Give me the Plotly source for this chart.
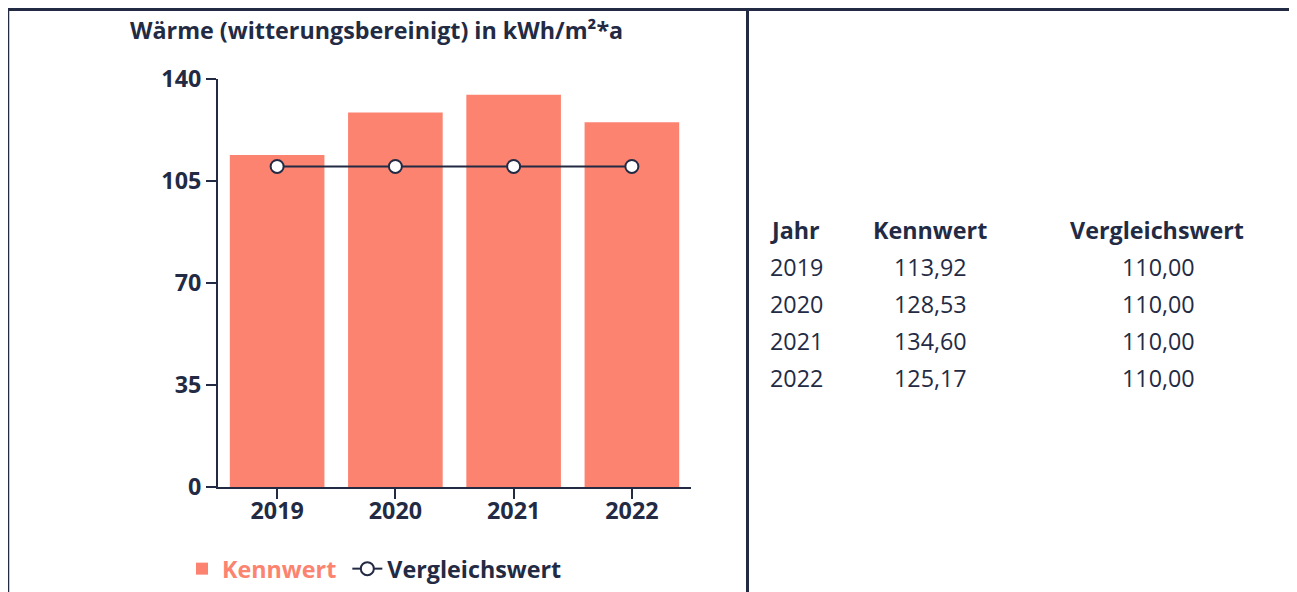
import plotly.graph_objects as go

# the page body adds 8px around the figure, so work in screen pixels and shift
OFF = 8
W, H = 1297 - OFF, 592 - OFF

years = ["2019", "2020", "2021", "2022"]
kennwert = [113.92, 128.53, 134.60, 125.17]
vergleichswert = [110.00, 110.00, 110.00, 110.00]
y_ticks = [0, 35, 70, 105, 140]

title_text = "Wärme (witterungsbereinigt) in kWh/m²*a"
table_header = ["Jahr", "Kennwert", "Vergleichswert"]

NAVY = "#232B44"
SALMON = "#FC8370"
FONT = "Open Sans"
FS = 23.3


def px_x(x):
    return (x - OFF) / W


def px_y(y):
    return 1 - (y - OFF) / H


def fmt(v):
    return f"{v:.2f}".replace(".", ",")


fig = go.Figure()

fig.add_trace(go.Bar(
    x=years, y=kennwert, name=f"<span style='color:{SALMON}'>Kennwert</span>\u00a0",
    marker=dict(color=SALMON, line=dict(width=0)),
))
fig.add_trace(go.Scatter(
    x=years, y=vergleichswert, name="Vergleichswert", mode="lines+markers",
    line=dict(color=NAVY, width=2),
    marker=dict(size=13, color="white", line=dict(color=NAVY, width=2)),
))

fig.update_layout(
    width=W, height=H,
    margin=dict(l=0, r=0, t=0, b=0, autoexpand=False),
    paper_bgcolor="white", plot_bgcolor="white",
    font=dict(family=FONT, color=NAVY, size=FS),
    bargap=0.2,
    showlegend=True,
    legend=dict(
        orientation="h", x=px_x(182), y=px_y(569), xanchor="left", yanchor="middle",
        font=dict(size=FS, weight="bold", color=NAVY), bgcolor="rgba(0,0,0,0)",
    ),
    xaxis=dict(
        domain=[px_x(218), px_x(691)], anchor="y", automargin=False,
        showline=True, linecolor=NAVY, linewidth=2,
        ticks="outside", ticklen=10, tickwidth=2, tickcolor=NAVY,
        tickfont=dict(size=FS, weight="bold", color=NAVY),
        ticklabelstandoff=-8,
        showgrid=False, zeroline=False,
    ),
    yaxis=dict(
        domain=[px_y(487), px_y(79)], anchor="x", automargin=False,
        range=[0, 140], tickvals=y_ticks,
        showline=True, linecolor=NAVY, linewidth=2,
        ticks="outside", ticklen=10, tickwidth=2, tickcolor=NAVY,
        tickfont=dict(size=FS, weight="bold", color=NAVY),
        showgrid=False, zeroline=False,
    ),
)

# title
fig.add_annotation(
    text=title_text, x=px_x(376), y=px_y(30), xref="paper", yref="paper",
    showarrow=False, xanchor="center", yanchor="middle",
    font=dict(size=FS, weight="bold", color=NAVY),
)

# panel borders
border = dict(color=NAVY, width=3)
fig.add_shape(type="line", xref="paper", yref="paper",
              x0=px_x(6), x1=px_x(1297), y0=px_y(9.5), y1=px_y(9.5), line=border)
fig.add_shape(type="line", xref="paper", yref="paper",
              x0=px_x(8), x1=px_x(8), y0=px_y(9), y1=px_y(592), line=dict(color=NAVY, width=2.5))
fig.add_shape(type="line", xref="paper", yref="paper",
              x0=px_x(747.5), x1=px_x(747.5), y0=px_y(9), y1=px_y(592), line=border)
fig.add_shape(type="line", xref="paper", yref="paper",
              x0=px_x(1295), x1=px_x(1295), y0=px_y(9), y1=px_y(592), line=dict(color=NAVY, width=2.5))

# table on the right
col_anchor = ["left", "center", "center"]
head_x = [768, 930, 1157]
val_x = [768, 930, 1158]
header_y = 230
row_h = 37

for cx, anc, txt in zip(head_x, col_anchor, table_header):
    fig.add_annotation(
        text=txt, x=px_x(cx), y=px_y(header_y), xref="paper", yref="paper",
        showarrow=False, xanchor=anc, yanchor="middle",
        font=dict(size=FS, weight="bold", color=NAVY),
    )

for i, (yr, kw, vw) in enumerate(zip(years, kennwert, vergleichswert)):
    ry = header_y + row_h * (i + 1)
    for cx, anc, txt in zip(val_x, col_anchor, [yr, fmt(kw), fmt(vw)]):
        fig.add_annotation(
            text=txt, x=px_x(cx), y=px_y(ry), xref="paper", yref="paper",
            showarrow=False, xanchor=anc, yanchor="middle",
            font=dict(size=FS, color=NAVY),
        )

fig.write_html("out.html")
